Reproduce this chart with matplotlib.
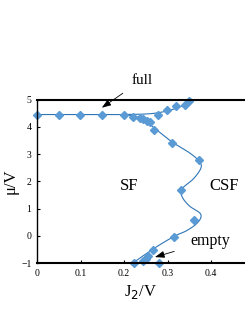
import numpy as np
import matplotlib
matplotlib.use("Agg")
import matplotlib.pyplot as plt

plt.rcParams['font.family'] = ['Liberation Serif', 'DejaVu Serif']

# measured points
j2 = [0.0, 0.051, 0.099, 0.150, 0.200, 0.220, 0.237, 0.244, 0.252, 0.260,
      0.269, 0.311, 0.372, 0.330, 0.361, 0.315, 0.267, 0.255, 0.250, 0.243,
      0.222, 0.280,
      0.279, 0.298, 0.319, 0.340, 0.350]
mu = [4.45, 4.45, 4.45, 4.45, 4.45, 4.35, 4.32, 4.27, 4.22, 4.18,
      3.89, 3.39, 2.79, 1.70, 0.57, -0.04, -0.53, -0.75, -0.84, -0.92,
      -1.0, -1.0,
      4.45, 4.62, 4.78, 4.79, 4.96]

# phase boundary (guide line), lower and upper branch
low_j2 = [0.0, 0.1, 0.2, 0.24, 0.27, 0.31, 0.35, 0.372, 0.377, 0.36, 0.335,
          0.333, 0.35, 0.376, 0.37, 0.345, 0.315, 0.27, 0.22]
low_mu = [4.45, 4.45, 4.44, 4.3, 3.95, 3.45, 3.05, 2.75, 2.5, 2.1, 1.75,
          1.45, 1.1, 0.8, 0.5, 0.2, -0.02, -0.45, -1.0]
up_j2 = [0.2, 0.25, 0.28, 0.31, 0.335, 0.355]
up_mu = [4.45, 4.47, 4.52, 4.63, 4.78, 5.0]


def smooth(xs, ys, n=20):
    p = np.column_stack([xs, ys])
    p = np.vstack([2 * p[0] - p[1], p, 2 * p[-1] - p[-2]])
    out = []
    for i in range(1, len(p) - 2):
        p0, p1, p2, p3 = p[i - 1], p[i], p[i + 1], p[i + 2]
        for t in np.linspace(0, 1, n, endpoint=False):
            out.append(0.5 * (2 * p1 + (-p0 + p2) * t
                              + (2 * p0 - 5 * p1 + 4 * p2 - p3) * t ** 2
                              + (-p0 + 3 * p1 - 3 * p2 + p3) * t ** 3))
    out.append(p[-2])
    out = np.array(out)
    return out[:, 0], out[:, 1]


fig = plt.figure(figsize=(2.45, 3.17), dpi=100)
ax = fig.add_axes([0.151, 0.170, 0.849, 0.516])

lx, ly = smooth(low_j2, low_mu)
ux, uy = smooth(up_j2, up_mu)
ax.plot(lx, ly, color='#2E75B6', lw=0.8)
ax.plot(ux, uy, color='#2E75B6', lw=0.8)
ax.plot(j2, mu, 'D', color='#5B9BD5', ms=4.2, mec='#5B9BD5', clip_on=False)

ax.set_xlim(0, 0.478)
ax.set_ylim(-1, 5)
ax.set_xticks([0, 0.1, 0.2, 0.3, 0.4])
ax.set_xticklabels(['0', '0.1', '0.2', '0.3', '0.4'])
ax.set_yticks(range(-1, 6))
ax.tick_params(direction='in', length=2.5, width=0.8, labelsize=7, pad=4)
ax.spines['right'].set_visible(False)
ax.spines['top'].set_linewidth(1.5)
ax.spines['bottom'].set_linewidth(1.5)
ax.spines['left'].set_linewidth(1.0)

ax.set_xlabel('J$_2$/V', fontsize=12, labelpad=4)
ax.set_ylabel('μ/V', fontsize=12, labelpad=2)

ax.text(0.211, 1.83, 'SF', fontsize=12, ha='center', va='center')
ax.text(0.429, 1.83, 'CSF', fontsize=12, ha='center', va='center')
arrow = dict(arrowstyle='-|>,head_length=0.5,head_width=0.18', color='black',
             lw=0.6, shrinkB=0)
ax.annotate('full', xy=(0.149, 4.70), xytext=(0.241, 5.71), fontsize=11,
            ha='center', va='center', annotation_clip=False,
            arrowprops=dict(arrow, shrinkA=5))
ax.annotate('empty', xy=(0.271, -0.78), xytext=(0.398, -0.18), fontsize=11.5,
            ha='center', va='center',
            arrowprops=dict(arrow, shrinkA=10))

fig.savefig('out.png', dpi=100)
